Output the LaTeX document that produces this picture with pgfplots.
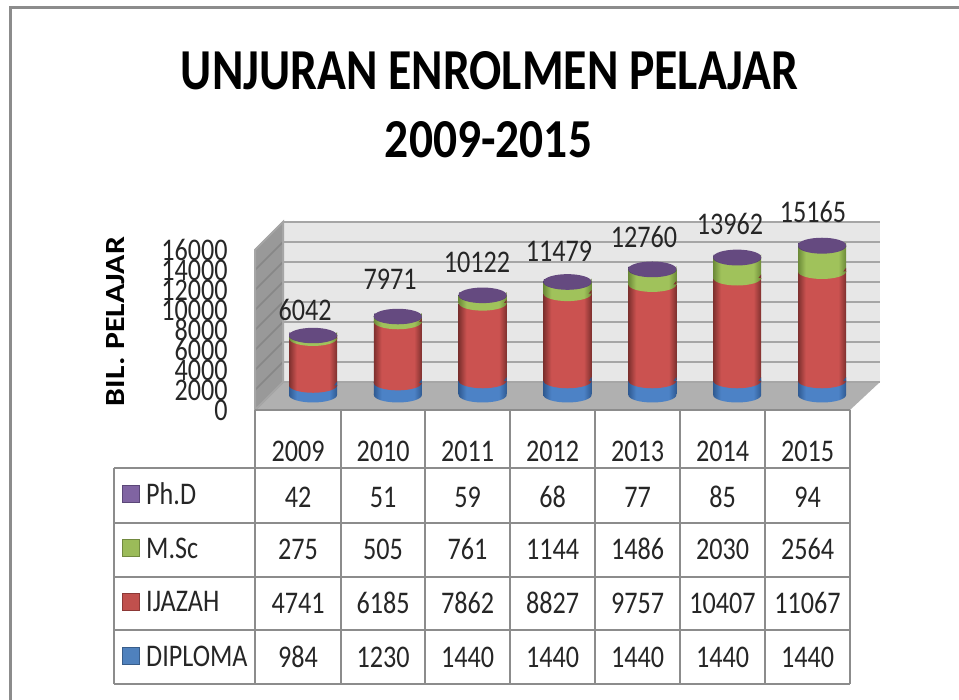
\documentclass[border=0pt]{standalone}
\usepackage{fontspec}
\setmainfont{Carlito}
\usepackage{graphicx}
\usepackage{pgfplots}
\usepackage{pgfplotstable}
\pgfplotsset{compat=1.18}
\definecolor{bm}{HTML}{4C82C6}\definecolor{bd}{HTML}{2F5A92}
\definecolor{rm}{HTML}{CB5250}\definecolor{rd}{HTML}{7E302E}
\definecolor{gm}{HTML}{A0C25B}\definecolor{gd}{HTML}{6C8A38}
\definecolor{pm}{HTML}{654A80}\definecolor{pd}{HTML}{4E3A66}
\definecolor{ln}{HTML}{8C8C8C}
\pgfdeclarehorizontalshading{bc}{100bp}{color(0bp)=(bd);color(25bp)=(bd);color(33bp)=(bm);color(67bp)=(bm);color(75bp)=(bd);color(100bp)=(bd)}
\pgfdeclarehorizontalshading{rc}{100bp}{color(0bp)=(rd);color(25bp)=(rd);color(33bp)=(rm);color(67bp)=(rm);color(75bp)=(rd);color(100bp)=(rd)}
\pgfdeclarehorizontalshading{gc}{100bp}{color(0bp)=(gd);color(25bp)=(gd);color(33bp)=(gm);color(67bp)=(gm);color(75bp)=(gd);color(100bp)=(gd)}
\pgfdeclarehorizontalshading{pc}{100bp}{color(0bp)=(pd);color(25bp)=(pd);color(33bp)=(pm);color(67bp)=(pm);color(75bp)=(pd);color(100bp)=(pd)}
% #1 colour letter of the segment above the boundary, #2 edge colour of the segment below it
\newcommand\declmark[2]{%
\pgfdeclareplotmark{#1half}{%
  \path[fill=#2,draw=none] (20.5pt,-1pt) -- (24pt,-1pt) -- (24pt,3.6pt) -- cycle;%
  \path[draw=none,shading=#1c,rotate=8] (-24pt,0pt) arc[start angle=180,end angle=360,x radius=24pt,y radius=7.5pt] -- (0pt,0pt) -- (-23.57pt,3.31pt) -- cycle;}}
\pgfdeclareplotmark{bhalf}{\path[draw=none,shading=bc,rotate=8] (-24pt,0pt) arc[start angle=180,end angle=360,x radius=24pt,y radius=7.5pt] -- (0pt,0pt) -- (-23.57pt,3.31pt) -- cycle;}
\declmark{r}{bd}\declmark{g}{rd}\declmark{p}{gd}
\pgfdeclareplotmark{ptop}{\path[draw=none,fill=pm,rotate=8] (0pt,0pt) ellipse[x radius=24pt,y radius=7.5pt];}
\pgfplotstableread{
x d i m p
0 984 4741 275 42
1 1230 6185 505 51
2 1440 7862 761 59
3 1440 8827 1144 68
4 1440 9757 1486 77
5 1440 10407 2030 85
6 1440 11067 2564 94
}\data
\newcommand\px[2]{({#1},{700-#2})}
\newcommand\num[1]{\fontsize{31.5}{32}\selectfont\color{black!85}\scalebox{.83}[1]{#1}}
\pgfplotsset{cylaxis/.style={at={(313pt,305pt)},anchor=south west,scale only axis,width=509pt,height=158pt,
  xmin=0,xmax=6,ymin=0,ymax=16000,hide axis,clip=false},
  cyl/.style={ybar,bar shift=0pt,bar width=48pt,draw=none,shading=#1},
  mk/.style={only marks,draw=none,mark=#1,forget plot}}
\begin{document}
\begin{tikzpicture}[x=1pt,y=1pt]
\useasboundingbox (0,0) rectangle (959,700);
\fill[white] (0,0) rectangle (959,700);
% frame
\draw[ln,line width=3pt] \px{10}{700} -- \px{10}{7.5} -- \px{959}{7.5};
% walls
\fill[black!9.5] \px{283}{222} rectangle \px{880}{382};
\fill[black!40] \px{255}{250} -- \px{283}{222} -- \px{283}{382} -- \px{255}{410} -- cycle;
\fill[black!31] \px{255}{410} -- \px{850}{410} -- \px{880}{382} -- \px{283}{382} -- cycle;
\foreach \k in {0,...,8} {
  \pgfmathsetmacro\yy{382-20*\k}
  \draw[black!35,line width=2pt] \px{283}{\yy} -- \px{880}{\yy};
  \draw[black!47,line width=1.5pt] \px{283}{\yy} -- ({255},{700-\yy-28});
}
\draw[black!35,line width=2pt] \px{255}{250} -- \px{283}{222} -- \px{283}{382} -- \px{255}{410} -- cycle;
% table grid
\draw[ln,line width=2pt] \px{255}{410} -- \px{850}{410};
\foreach \xx in {255,341,425,510,595,680,765,850}
  \draw[ln,line width=2pt] \px{\xx}{410} -- \px{\xx}{684};
\foreach \yy in {468,523,577,630,684}
  \draw[ln,line width=2pt] \px{114}{\yy} -- \px{850}{\yy};
\draw[ln,line width=2pt] \px{114}{468} -- \px{114}{684};
% y axis with tick labels and label
\begin{axis}[name=ya,at={(255pt,290pt)},anchor=south west,scale only axis,width=595pt,height=160pt,
  xmin=0,xmax=7,ymin=0,ymax=16000,axis x line=none,axis y line=left,axis line style={draw=none},
  y axis line style={draw=none},xtick=\empty,ytick={0,2000,...,16000},tick style={draw=none},
  scaled y ticks=false,
  yticklabel style={anchor=east,inner sep=0pt,xshift=-25pt},
  yticklabel={\num{\pgfmathprintnumber[1000 sep={},fixed,precision=0,assume math mode=true]{\tick}}},
  ylabel={\resizebox{169pt}{18pt}{\bfseries BIL. PELAJAR}},
  every axis y label/.style={at={(axis description cs:-0.2336,0.553)},rotate=90,anchor=center,inner sep=0pt}]
\addplot[draw=none,forget plot] coordinates {(0,0)};
\end{axis}
% cylinder bodies: one stacked axis per year, so each bar is shaded on its own
\foreach \i in {0,...,6} {
\begin{axis}[cylaxis,stack plots=y,reverse stacked plots=false,restrict x to domain=\i:\i]
\addplot[cyl=bc] table[x=x,y=d] {\data};
\addplot[cyl=rc] table[x=x,y=i] {\data};
\addplot[cyl=gc] table[x=x,y=m] {\data};
\addplot[cyl=pc] table[x=x,y=p] {\data};
\end{axis}
}
% curved boundaries and top faces
\begin{axis}[cylaxis]
\addplot[mk=bhalf] table[x=x,y expr=0] {\data};
\addplot[mk=rhalf] table[x=x,y=d] {\data};
\addplot[mk=ghalf] table[x=x,y expr=\thisrow{d}+\thisrow{i}] {\data};
\addplot[mk=phalf] table[x=x,y expr=\thisrow{d}+\thisrow{i}+\thisrow{m}] {\data};
\addplot[mk=ptop] table[x=x,y expr=\thisrow{d}+\thisrow{i}+\thisrow{m}+\thisrow{p}] {\data};
\end{axis}
% totals
\foreach \xx/\yy/\t in {305/310/6042,390/279/7971,477/262/10122,559/251/11479,644/237/12760,730/224/13962,813/212/15165}
  \node[inner sep=0pt] at \px{\xx}{\yy} {\num{\t}};
% title
\node[inner sep=0pt] at \px{489.5}{71} {\resizebox{617pt}{38pt}{\bfseries UNJURAN ENROLMEN PELAJAR}};
\node[inner sep=0pt] at \px{488.5}{140} {\resizebox{207pt}{36pt}{\bfseries 2009-2015}};
% table text
\foreach \xx/\a/\b/\c/\d/\e in {
 298/2009/42/275/4741/984,383/2010/51/505/6185/1230,467.5/2011/59/761/7862/1440,
 552.5/2012/68/1144/8827/1440,637.5/2013/77/1486/9757/1440,722.5/2014/85/2030/10407/1440,807.5/2015/94/2564/11067/1440}{
  \node[inner sep=0pt] at \px{\xx}{451} {\num{\a}};
  \node[inner sep=0pt] at \px{\xx}{497} {\num{\b}};
  \node[inner sep=0pt] at \px{\xx}{549} {\num{\c}};
  \node[inner sep=0pt] at \px{\xx}{603} {\num{\d}};
  \node[inner sep=0pt] at \px{\xx}{657} {\num{\e}};
}
% row heads
\foreach \yy/\t/\f/\dd in {494/Ph.D/8064A2/5B4778,548/M.Sc/9BBB59/71893F,602/IJAZAH/C0504D/8C3836,656/DIPLOMA/4F81BD/385D8A}{
  \definecolor{tmpf}{HTML}{\f}\definecolor{tmpd}{HTML}{\dd}
  \filldraw[fill=tmpf,draw=tmpd,line width=1pt] \px{122.5}{\yy-8.5} rectangle \px{139.5}{\yy+8.5};
  \node[inner sep=0pt,anchor=west] at \px{146}{\yy} {\num{\t}};
}
\end{tikzpicture}
\end{document}
